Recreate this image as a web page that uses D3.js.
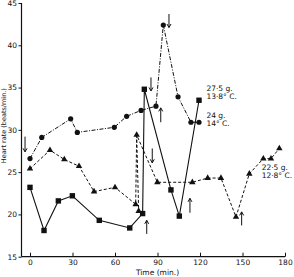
<!DOCTYPE html>
<html>
<head>
<meta charset="utf-8">
<script src="https://cdnjs.cloudflare.com/ajax/libs/d3/7.8.5/d3.min.js"></script>
<style>
  body { margin: 0; background: #fff; }
  svg { display: block; }
  text { font-family: "DejaVu Sans", sans-serif; fill: #111; }
</style>
</head>
<body>
<div id="chart"></div>
<script>
// values (time in min, heart rate in beats/min)
const circleTime = [0, 8.3, 28.7, 33.4, 59.5, 68.2, 78.4, 88.9, 94.1, 104.5, 113.6, 119.3];
const circleRate = [26.6, 29.1, 31.3, 29.7, 30.3, 31.6, 32.3, 32.8, 42.4, 33.9, 30.9, 30.9];

const squareTime = [0, 9.9, 20, 29.9, 48.9, 70.4, 79.5, 80.7, 99.5, 105.4, 119.3];
const squareRate = [23.2, 18.1, 21.6, 22.2, 19.3, 18.4, 20.1, 34.8, 22.9, 19.8, 33.5];

const triTime = [0, 14.1, 24.2, 34.6, 45.2, 60, 74.6, 75.3, 89.9, 114.6, 125.4, 134.8, 145.4, 154.8, 164.7, 170.1, 176];
const triRate = [25.4, 27.6, 26.5, 25.7, 22.7, 23.2, 21.2, 29.4, 23.8, 23.8, 24.3, 24.3, 19.7, 24.8, 26.6, 26.6, 27.8];
// second dashed drop from the 29.4 peak
const triBranchTime = [75.3, 76.7];
const triBranchRate = [29.4, 20.4];

// arrows: time, rate at tail, rate at head
const arrowTime = [-3.5, 85.4, 92.3, 98.1, 86.3, 82.4, 112.9, 149.4];
const arrowFrom = [29.2, 36.2, 30.9, 43.7, 27.8, 17.7, 20.2, 18.7];
const arrowTo   = [27.4, 34.6, 32.6, 42.1, 26.1, 19.3, 21.9, 20.3];

const xTicks = [0, 30, 60, 90, 120, 150, 180];
const yTicks = [15, 20, 25, 30, 35, 40, 45];

const labels = [
  { t: 124.5, r: 34.6, lines: ["27·5 g.", "13·8° C."] },
  { t: 124.5, r: 31.4, lines: ["24 g.", "14° C."] },
  { t: 163.5, r: 25.3, lines: ["22·5 g.", "12·8° C."] }
];

const width = 294, height = 277;

const svg = d3.select("#chart")
  .append("svg")
  .attr("width", width)
  .attr("height", height);

const x = d3.scaleLinear().domain([0, 180]).range([30, 285]);
const y = d3.scaleLinear().domain([15, 45]).range([256.7, 3]);

const zip = (ts, rs) => ts.map((t, i) => ({ t: t, r: rs[i] }));
const circles = zip(circleTime, circleRate);
const squares = zip(squareTime, squareRate);
const tris = zip(triTime, triRate);
const triBranch = zip(triBranchTime, triBranchRate);

// axes
const xAxis = svg.append("g")
  .attr("transform", `translate(0,${y(15)})`)
  .call(d3.axisBottom(x).tickValues(xTicks).tickSize(-4).tickPadding(2.5));
xAxis.select(".domain").remove();
xAxis.append("line")
  .attr("x1", x(-6)).attr("x2", x(180))
  .attr("stroke", "#111").attr("stroke-width", 1.2);
xAxis.selectAll(".tick line").attr("stroke", "#111");
xAxis.selectAll(".tick text").attr("font-size", 7.5).attr("fill", "#111")
  .style("font-family", "DejaVu Sans, sans-serif");

const yAxis = svg.append("g")
  .attr("transform", `translate(${x(-6)},0)`)
  .call(d3.axisLeft(y).tickValues(yTicks).tickSize(3).tickPadding(1.5));
yAxis.select(".domain").remove();
yAxis.append("line")
  .attr("y1", y(15)).attr("y2", y(45))
  .attr("stroke", "#111").attr("stroke-width", 1.2);
yAxis.selectAll(".tick line").attr("stroke", "#111");
yAxis.selectAll(".tick text").attr("font-size", 7.5).attr("fill", "#111")
  .style("font-family", "DejaVu Sans, sans-serif");

// axis titles
svg.append("text")
  .attr("x", x(90))
  .attr("y", 275)
  .attr("text-anchor", "middle")
  .attr("font-size", 7.5)
  .text("Time (min.)");

svg.append("text")
  .attr("transform", `translate(6,${y(30.5)}) rotate(-90)`)
  .attr("text-anchor", "middle")
  .attr("font-size", 6.5)
  .text("Heart rate (beats/min.)");

// lines
const line = d3.line().x(d => x(d.t)).y(d => y(d.r));

svg.append("path").datum(squares)
  .attr("fill", "none").attr("stroke", "#111").attr("stroke-width", 1.1)
  .attr("d", line);

svg.append("path").datum(circles)
  .attr("fill", "none").attr("stroke", "#111").attr("stroke-width", 1)
  .attr("stroke-dasharray", "4,1.5,1,1.5")
  .attr("d", line);

[tris, triBranch].forEach(data => {
  svg.append("path").datum(data)
    .attr("fill", "none").attr("stroke", "#111").attr("stroke-width", 1)
    .attr("stroke-dasharray", "3,2")
    .attr("d", line);
});

// markers
svg.selectAll(".sq").data(squares).enter().append("rect")
  .attr("x", d => x(d.t) - 2.7).attr("y", d => y(d.r) - 2.7)
  .attr("width", 5.4).attr("height", 5.4)
  .attr("fill", "#111");

svg.selectAll(".ci").data(circles).enter().append("circle")
  .attr("cx", d => x(d.t)).attr("cy", d => y(d.r))
  .attr("r", 2.6)
  .attr("fill", "#111");

const tri = d3.symbol().type(d3.symbolTriangle).size(18);
svg.selectAll(".tr").data(tris.concat(triBranch.slice(1))).enter().append("path")
  .attr("transform", d => `translate(${x(d.t)},${y(d.r)})`)
  .attr("d", tri)
  .attr("fill", "#111");

// arrows
const arrows = arrowTime.map((t, i) => ({ t: t, from: arrowFrom[i], to: arrowTo[i] }));
const ag = svg.selectAll(".arrow").data(arrows).enter().append("g");
ag.append("line")
  .attr("x1", d => x(d.t)).attr("x2", d => x(d.t))
  .attr("y1", d => y(d.from)).attr("y2", d => y(d.to))
  .attr("stroke", "#111").attr("stroke-width", 1);
ag.append("path")
  .attr("d", d => {
    const px = x(d.t), py = y(d.to);
    const dir = d.to < d.from ? 1 : -1; // 1 = pointing down
    return `M${px - 2},${py - 3.5 * dir} L${px},${py} L${px + 2},${py - 3.5 * dir}`;
  })
  .attr("fill", "none").attr("stroke", "#111").attr("stroke-width", 1);

// series labels
labels.forEach(l => {
  const t = svg.append("text")
    .attr("x", x(l.t))
    .attr("y", y(l.r))
    .attr("font-size", 7.5);
  l.lines.forEach((s, i) => {
    t.append("tspan").attr("x", x(l.t)).attr("dy", i === 0 ? 0 : 8).text(s);
  });
});
</script>
</body>
</html>
